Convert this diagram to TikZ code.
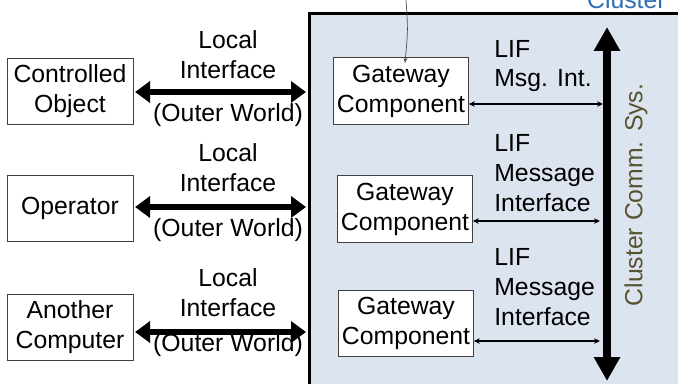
\documentclass[tikz,border=0pt]{standalone}
\usepackage{fontspec}
\setmainfont{Liberation Sans}
\usetikzlibrary{arrows.meta}

\definecolor{clusterfill}{HTML}{DCE4F0}
\definecolor{clusterblue}{HTML}{2F6DB5}
\definecolor{busolive}{HTML}{57532F}

\begin{document}
\begin{tikzpicture}[
    x=0.02cm, y=-0.02cm,
    every node/.style={font=\fontsize{14.1}{17}\selectfont},
    obj/.style={rectangle, draw=black!75, thin, fill=white, align=center,
                minimum width=2.52cm, minimum height=1.32cm, inner sep=1pt},
    gw/.style={rectangle, draw=black!75, thin, fill=white, align=center,
               minimum width=2.7cm, minimum height=1.33cm, inner sep=1pt},
    lif/.style={align=left, anchor=west, inner sep=0pt},
    lbl/.style={align=center, inner sep=0pt},
    outer/.style={{Triangle[length=0.3cm, width=0.42cm]}-{Triangle[length=0.3cm, width=0.42cm]},
                  line width=0.12cm, shorten <=1pt},
    msg/.style={{Stealth[length=0.12cm, width=0.11cm]}-{Stealth[length=0.12cm, width=0.11cm]},
                line width=0.6pt},
    bus/.style={{Triangle[length=0.48cm, width=0.5cm]}-{Triangle[length=0.48cm, width=0.5cm]},
                line width=0.16cm},
  ]
  \useasboundingbox (0,0) rectangle (678,384);

  % === cluster ===
  \draw[line width=0.06cm, fill=clusterfill] (309,14) rectangle (700,400);
  \node[text=clusterblue, anchor=base east, inner sep=0pt] (clname) at (666,9) {Cluster};

  % cluster communication system
  \coordinate (bustop) at (607,27);
  \coordinate (busbot) at (607,381);
  \draw[bus] (bustop) -- (busbot);
  \node[text=busolive, rotate=90, inner sep=0pt] (busname) at (636,195) {Cluster Comm. Sys.};

  % === outer world ===
  \node[obj] (co) at (70,91) {Controlled\\Object};
  \node[obj] (op) at (70,208.5) {Operator};
  \node[obj] (ac) at (70,327) {Another\\Computer};

  \coordinate (w1) at (306,92);
  \coordinate (w2) at (306,207);
  \coordinate (w3) at (306,332);
  \draw[outer] (co.east |- w1) -- (w1);
  \draw[outer] (op.east |- w2) -- (w2);
  \draw[outer] (ac.east |- w3) -- (w3);

  \node[lbl] (li1) at (228,55) {Local\\Interface};
  \node[lbl] (ow1) at (228,115) {(Outer World)};
  \node[lbl] (li2) at (228,168) {Local\\Interface};
  \node[lbl] (ow2) at (228,230) {(Outer World)};
  \node[lbl] (li3) at (228,293) {Local\\Interface};
  \node[lbl] (ow3) at (228,345) {(Outer World)};

  % === gateway components ===
  \node[gw] (gw1) at (401,91) {Gateway\\Component};
  \node[gw] (gw2) at (405,209) {Gateway\\Component};
  \node[gw] (gw3) at (406,323.5) {Gateway\\Component};

  \coordinate (m1) at (603,104);
  \coordinate (m2) at (600,221);
  \coordinate (m3) at (600,341);
  \draw[msg] (gw1.east |- m1) -- (m1);
  \draw[msg] (gw2.east |- m2) -- (m2);
  \draw[msg] (gw3.east |- m3) -- (m3);

  \node[lif] (lif1) at (494,66) {LIF\\Msg. Int.};
  \node[lif] (lif2) at (494,173) {LIF\\Message\\Interface};
  \node[lif] (lif3) at (494,287) {LIF\\Message\\Interface};

  % pen note on the first gateway
  \coordinate (note) at (406,0);
  \draw[black!70, thin, -{Stealth[length=0.1cm, width=0.08cm, open]}] (note) .. controls (408,30) .. (405,63);

  \end{tikzpicture}
\end{document}
